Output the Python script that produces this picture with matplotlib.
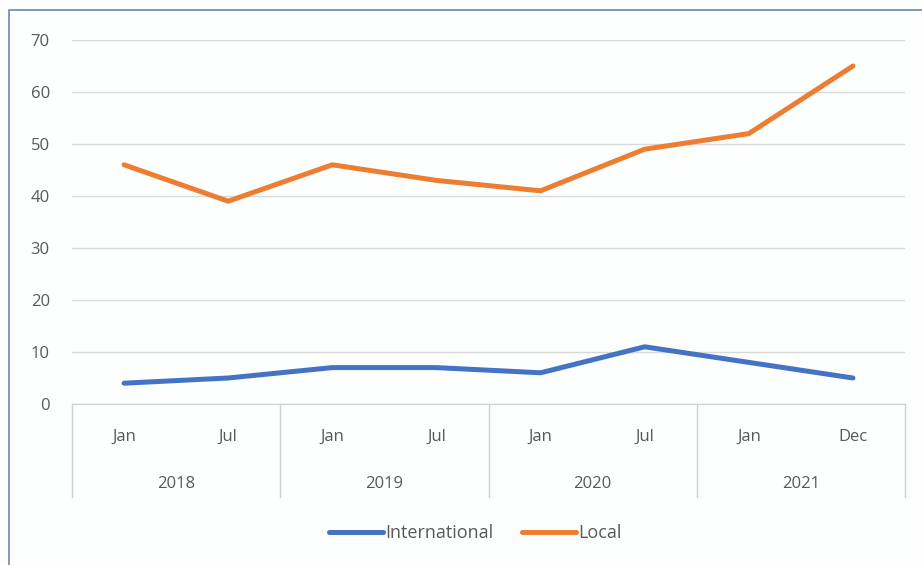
import matplotlib.pyplot as plt
import matplotlib.transforms as transforms
from matplotlib.patches import Rectangle

# --- Data ---
months = ["Jan", "Jul", "Jan", "Jul", "Jan", "Jul", "Jan", "Dec"]
years = ["2018", "2019", "2020", "2021"]
international = [4, 5, 7, 7, 6, 11, 8, 5]
local = [46, 39, 46, 43, 41, 49, 52, 65]

plt.rcParams['font.family'] = ['Open Sans', 'DejaVu Sans']

W, H = 922, 565
fig = plt.figure(figsize=(W / 100, H / 100), dpi=100)
fig.patch.set_facecolor("#fdfefe")

# frame of the chart (only left/top visible in the crop)
fig.add_artist(Rectangle((9 / W, -0.1), 1.2, 1 - 10 / H + 0.1, transform=fig.transFigure,
                         fill=False, ec="#6f87b4", lw=1.2))

ax = fig.add_axes([72 / W, (H - 404) / H, (905 - 72) / W, (404 - 40) / H])
ax.set_facecolor("none")

x = list(range(len(months)))
ax.plot(x, international, color="#4472C4", lw=3.6, solid_capstyle="round", label="International")
ax.plot(x, local, color="#ED7D31", lw=3.6, solid_capstyle="round", label="Local")

ax.set_xlim(-0.5, len(months) - 0.5)
ax.set_ylim(0, 70)
ax.set_yticks(range(0, 71, 10))
ax.yaxis.grid(True, color="#d9d9d9", lw=1)
ax.set_axisbelow(True)
for s in ["top", "right", "left"]:
    ax.spines[s].set_visible(False)
ax.spines["bottom"].set_color("#d0d0d0")
ax.tick_params(axis="y", length=0, pad=16, labelsize=12, labelcolor="#595959")

# month labels
ax.set_xticks(x)
ax.set_xticklabels(months)
ax.tick_params(axis="x", length=0, pad=18, labelsize=12, labelcolor="#595959")

# year labels and dividers
trans = transforms.blended_transform_factory(ax.transData, ax.transAxes)
axh = 404 - 40
for i in range(len(years) + 1):
    xb = -0.5 + 2 * i
    ax.plot([xb, xb], [0, -93 / axh], transform=trans, color="#d0d0d0", lw=1, clip_on=False)
for i, yr in enumerate(years):
    ax.text(0.5 + 2 * i, -(484 - 404) / axh, yr, transform=trans, ha="center", va="center",
            fontsize=12, color="#595959")

fig.legend(loc="center", bbox_to_anchor=(475 / W, 1 - 533 / H), ncol=2, frameon=False,
           handlelength=3.0, handletextpad=0.1, columnspacing=1.6,
           prop={"size": 13}, labelcolor="#595959")

fig.savefig("out.png", dpi=100, facecolor=fig.get_facecolor())
